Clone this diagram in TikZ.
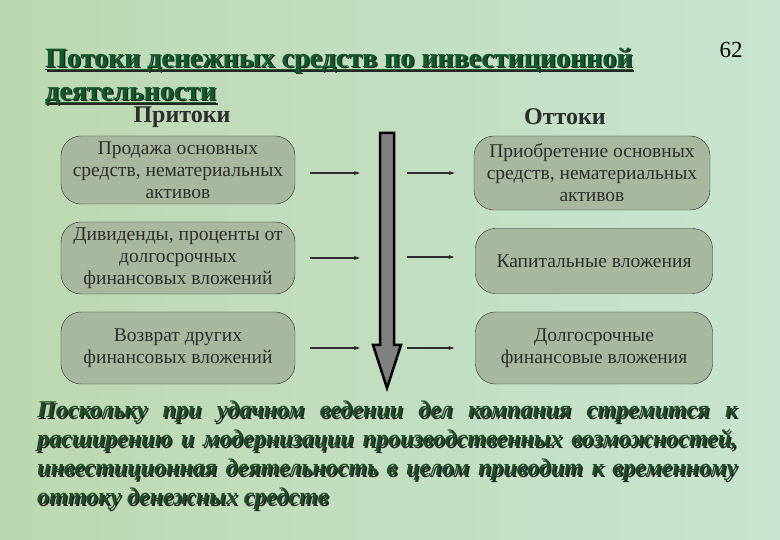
\documentclass[tikz,border=0pt]{standalone}
\usepackage{fontspec}
\setmainfont{Liberation Serif}
\usetikzlibrary{arrows.meta,positioning}
\definecolor{bgleft}{RGB}{188,216,176}
\definecolor{bgright}{RGB}{200,228,208}
\definecolor{boxfill}{RGB}{168,184,158}
\definecolor{titlegreen}{RGB}{12,92,42}
\definecolor{notegreen}{RGB}{30,78,40}
\definecolor{textgray}{RGB}{45,45,45}
\definecolor{arrowgray}{RGB}{128,128,128}
\newcommand\thickul[1]{\setbox0\hbox{#1}\rlap{\rule[-3pt]{\wd0}{1.8pt}}\box0}
\newcommand\titletext{\thickul{Потоки денежных средств по инвестиционной}\\\thickul{деятельности}}
\newcommand\notetext{%
  \makebox[700pt][s]{Поскольку при удачном ведении дел компания стремится к}\\
  \makebox[700pt][s]{расширению и модернизации производственных возможностей,}\\
  \makebox[700pt][s]{инвестиционная деятельность в целом приводит к временному}\\
  оттоку денежных средств}
\tikzset{
  flowbox/.style={draw=textgray, fill=boxfill, rounded corners=20pt, align=center,
    text=textgray, inner sep=2pt, font=\fontsize{19.5}{22}\selectfont},
  flow/.style={draw=textgray, line width=1.1pt, -{Stealth[length=6pt,width=4pt]}},
  header/.style={text=textgray, font=\fontsize{24}{26}\selectfont\bfseries},
  titlefont/.style={font=\fontsize{28}{33}\selectfont\bfseries, align=left, inner sep=0pt, anchor=north west},
  notefont/.style={font=\fontsize{24}{29}\selectfont\bfseries\itshape, align=left, inner sep=0pt, anchor=north west}
}
\begin{document}
\begin{tikzpicture}[x=1pt,y=-1pt]
  % background
  \shade[left color=bgleft, right color=bgright] (0,0) rectangle (780,540);
  \useasboundingbox (0,0) rectangle (780,540);

  % title with shadow
  \node[titlefont, text=black!85] at (46.5,49.5) {\titletext};
  \node[titlefont, text=titlegreen] (title) at (45,48) {\titletext};
  \node[font=\fontsize{23}{25}\selectfont] (page) at (731,50) {62};

  \node[header] (inflow) at (182,117) {Притоки};
  \node[header] (outflow) at (565,117) {Оттоки};

  % inflows
  \node[flowbox, minimum width=234pt, minimum height=68pt] (in1) at (178,170)
    {Продажа основных\\средств, нематериальных\\активов};
  \node[flowbox, minimum width=234pt, minimum height=72pt] (in2) at (178,258)
    {Дивиденды, проценты от\\долгосрочных\\финансовых вложений};
  \node[flowbox, minimum width=234pt, minimum height=72pt] (in3) at (178,348)
    {Возврат других\\финансовых вложений};

  % outflows
  \node[flowbox, minimum width=236pt, minimum height=74pt] (out1) at (592,173)
    {Приобретение основных\\средств, нематериальных\\активов};
  \node[flowbox, minimum width=237pt, minimum height=65pt] (out2) at (594,261)
    {Капитальные вложения};
  \node[flowbox, minimum width=237pt, minimum height=72pt] (out3) at (594,348)
    {Долгосрочные\\финансовые вложения};

  % cash axis
  \draw[line width=2.5pt, fill=arrowgray, line join=miter]
    (380,133) -- (394,133) -- (394,345) -- (401,345) -- (387,388)
    -- (373,345) -- (380,345) -- cycle;
  \coordinate (shaftL) at (360,0);
  \coordinate (shaftR) at (407,0);

  \draw[flow] ([xshift=15pt,yshift=-3pt]in1.east) -- ([yshift=-3pt]in1.east -| shaftL);
  \draw[flow] ([xshift=15pt]in2.east) -- (in2.east -| shaftL);
  \draw[flow] ([xshift=15pt]in3.east) -- (in3.east -| shaftL);
  \draw[flow] (out1.west -| shaftR) -- ([xshift=-19pt]out1.west);
  \draw[flow] ([yshift=4pt]out2.west -| shaftR) -- ([xshift=-21pt,yshift=4pt]out2.west);
  \draw[flow] (out3.west -| shaftR) -- ([xshift=-21pt]out3.west);

  % note with shadow
  \node[notefont, text=black!85] at (38.5,402.5) {\notetext};
  \node[notefont, text=notegreen] (note) at (37,401) {\notetext};
\end{tikzpicture}
\end{document}
